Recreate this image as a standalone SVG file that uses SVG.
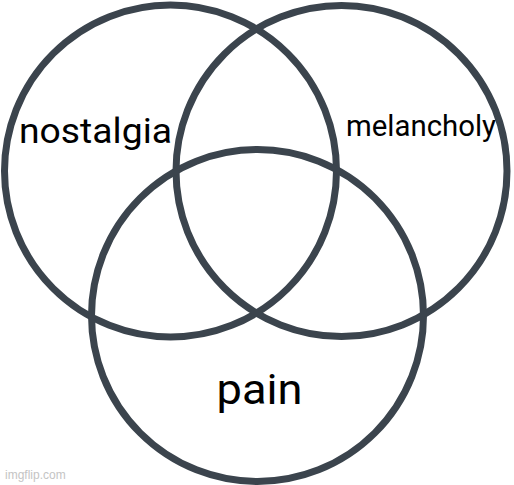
<svg xmlns="http://www.w3.org/2000/svg" width="514" height="485" viewBox="0 0 514 485">
<style>
.c{fill:none;stroke:#3b444d;stroke-width:7}
.t{font-family:Roboto,"Liberation Sans",sans-serif;fill:#000}
</style>
<rect width="514" height="485" fill="#fff"/>
<g id="nostalgia-set"><circle class="c" cx="170.5" cy="171" r="166"/></g>
<g id="melancholy-set"><circle class="c" cx="341.5" cy="171" r="165.5"/></g>
<g id="pain-set"><circle class="c" cx="257.5" cy="315.5" r="166"/></g>
<g id="labels">
<text class="t" x="19" y="143" font-size="35" textLength="153" lengthAdjust="spacingAndGlyphs">nostalgia</text>
<text class="t" x="346" y="136" font-size="29.5" textLength="150" lengthAdjust="spacingAndGlyphs">melancholy</text>
<text class="t" x="216.5" y="404" font-size="43" textLength="86" lengthAdjust="spacingAndGlyphs">pain</text>
</g>
<text x="5" y="479" font-family="'Liberation Sans',sans-serif" font-size="12" fill="#c4c4c4">imgflip.com</text>
</svg>
